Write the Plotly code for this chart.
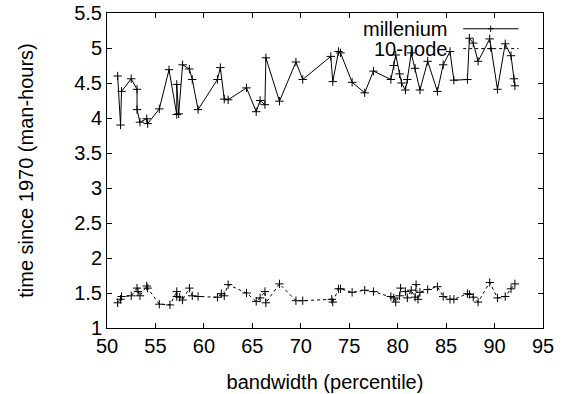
import plotly.graph_objects as go

# millenium series
mill_x = [51.1, 51.4, 51.5, 52.5, 53.1, 53.1, 53.4, 54.1, 54.2, 55.4, 56.4, 57.2, 57.2, 57.4, 57.8,
          58.5, 58.8, 59.4, 61.4, 61.7, 62.1, 62.5, 64.4, 65.4, 65.8, 66.3, 66.4, 67.8, 69.5, 70.2,
          73.1, 73.3, 73.9, 74.1, 75.3, 76.6, 77.5, 79.3, 79.6, 79.8, 80.2, 80.4, 80.8, 81.0, 81.4,
          81.8, 82.3, 83.1, 84.1, 84.7, 85.4, 85.8, 87.2, 87.4, 87.8, 88.3, 89.5, 90.3, 91.1, 91.7,
          92.0, 92.1]
mill_y = [4.60, 3.90, 4.38, 4.56, 4.41, 4.12, 3.94, 3.99, 3.92, 4.13, 4.69, 4.05, 4.48, 4.06, 4.76,
          4.70, 4.55, 4.12, 4.55, 4.72, 4.27, 4.26, 4.43, 4.09, 4.25, 4.19, 4.86, 4.24, 4.80, 4.55,
          4.88, 4.52, 4.95, 4.93, 4.51, 4.36, 4.67, 4.55, 4.75, 4.90, 4.63, 4.50, 4.40, 4.55, 4.93,
          4.71, 4.40, 4.81, 4.38, 4.76, 4.95, 4.54, 4.55, 5.14, 5.07, 4.81, 5.13, 4.41, 5.06, 4.89,
          4.56, 4.46]

# 10-node series
node_x = [51.1, 51.4, 51.5, 52.5, 53.1, 53.2, 53.4, 54.1, 54.2, 55.4, 56.5, 57.2, 57.2, 57.5, 57.8,
          58.5, 58.8, 59.4, 61.4, 61.8, 62.1, 62.5, 64.4, 65.4, 65.8, 66.3, 66.4, 67.8, 69.5, 70.2,
          73.2, 73.3, 73.9, 74.1, 75.3, 76.6, 77.5, 79.3, 79.6, 79.8, 80.2, 80.3, 80.8, 81.0, 81.4,
          81.8, 81.9, 82.1, 82.3, 83.1, 84.1, 84.7, 85.4, 85.8, 87.2, 87.4, 87.8, 88.3, 89.5, 90.3,
          91.1, 91.7, 92.1]
node_y = [1.36, 1.41, 1.45, 1.46, 1.57, 1.52, 1.46, 1.60, 1.57, 1.34, 1.33, 1.52, 1.45, 1.44, 1.40,
          1.57, 1.46, 1.45, 1.44, 1.49, 1.46, 1.62, 1.50, 1.38, 1.43, 1.52, 1.36, 1.63, 1.39, 1.39,
          1.41, 1.37, 1.56, 1.56, 1.51, 1.54, 1.52, 1.45, 1.43, 1.37, 1.46, 1.57, 1.52, 1.43, 1.54,
          1.44, 1.62, 1.41, 1.51, 1.55, 1.59, 1.45, 1.41, 1.41, 1.49, 1.48, 1.44, 1.37, 1.65, 1.43,
          1.45, 1.56, 1.63]

series_names = ["millenium", "10-node"]
x_ticks = [50, 55, 60, 65, 70, 75, 80, 85, 90, 95]
y_ticks = [1, 1.5, 2, 2.5, 3, 3.5, 4, 4.5, 5, 5.5]

FONT = "Liberation Sans, Arial, Helvetica, sans-serif"

fig = go.Figure()
fig.add_trace(go.Scatter(
    x=mill_x, y=mill_y, mode="lines+markers", name=series_names[0],
    line=dict(color="black", width=1),
    marker=dict(symbol="cross-thin", size=6, line=dict(color="black", width=1)),
    showlegend=False))
fig.add_trace(go.Scatter(
    x=node_x, y=node_y, mode="lines+markers", name=series_names[1],
    line=dict(color="black", width=1, dash="dot"),
    marker=dict(symbol="cross-thin", size=6, line=dict(color="black", width=1)),
    showlegend=False))

# manual gnuplot-style legend (text, then sample)
leg_rows = [(0.950, "solid"), (0.887, "dash")]
shapes = []
annotations = []
for name, (ly, dash) in zip(series_names, leg_rows):
    annotations.append(dict(x=0.785, y=ly, xref="paper", yref="paper", text=name,
                            showarrow=False, xanchor="right", yanchor="middle",
                            font=dict(family=FONT, size=20, color="black")))
    shapes.append(dict(type="line", xref="paper", yref="paper", x0=0.817, x1=0.944,
                       y0=ly, y1=ly, line=dict(color="black", width=1,
                                               dash="3px,3px" if dash == "dash" else "solid")))
    shapes.append(dict(type="line", xref="paper", yref="paper", x0=0.880 - 0.0069, x1=0.880 + 0.0069,
                       y0=ly, y1=ly, line=dict(color="black", width=1)))
    shapes.append(dict(type="line", xref="paper", yref="paper", x0=0.880, x1=0.880,
                       y0=ly - 0.0095, y1=ly + 0.0095, line=dict(color="black", width=1)))

fig.update_layout(
    width=564, height=394,
    margin=dict(l=107, r=21, t=13, b=66),
    paper_bgcolor="white", plot_bgcolor="white",
    font=dict(family=FONT, size=20, color="black"),
    shapes=shapes, annotations=annotations,
    xaxis=dict(range=[50, 95], tickvals=x_ticks, ticks="inside", ticklen=5,
               showline=True, linecolor="black", linewidth=1, mirror="ticks",
               showgrid=False, zeroline=False, tickcolor="black", automargin=False,
               title=dict(text="bandwidth (percentile)", standoff=18, font=dict(size=20)),
               tickfont=dict(size=20)),
    yaxis=dict(range=[1, 5.5], tickvals=y_ticks, ticks="inside", ticklen=5,
               showline=True, linecolor="black", linewidth=1, mirror="ticks",
               showgrid=False, zeroline=False, tickcolor="black", automargin=False,
               title=dict(text="time since 1970 (man-hours)", standoff=35, font=dict(size=20)),
               tickfont=dict(size=20)),
)

fig.write_html("out.html", config={"displayModeBar": False},
               post_script="document.body.style.margin='0';")
